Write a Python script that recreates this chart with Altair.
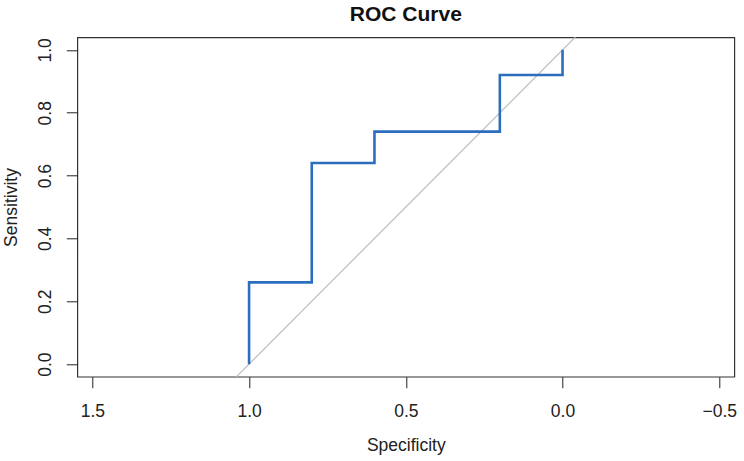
import altair as alt
import pandas as pd

# ROC step curve (specificity, sensitivity)
specificity = [1.0, 1.0, 0.8, 0.8, 0.6, 0.6, 0.2, 0.2, 0.0, 0.0]
sensitivity = [0.0, 0.26, 0.26, 0.64, 0.64, 0.74, 0.74, 0.92, 0.92, 1.0]

# chance diagonal (sensitivity = 1 - specificity), clipped to the plot box
diag_spec = [1.6, -0.6]
diag_sens = [-0.6, 1.6]

x_ticks = [1.5, 1.0, 0.5, 0.0, -0.5]
y_ticks = [0.0, 0.2, 0.4, 0.6, 0.8, 1.0]

curve_df = pd.DataFrame({"spec": specificity, "sens": sensitivity, "order": list(range(len(specificity)))})
diag_df = pd.DataFrame({"spec": diag_spec, "sens": diag_sens, "order": [0, 1]})

FONT = "Liberation Sans"

x_scale = alt.Scale(domain=[1.548, -0.548], nice=False, zero=False)
y_scale = alt.Scale(domain=[-0.04, 1.04], nice=False, zero=False)

x_axis = alt.Axis(
    values=x_ticks, format=".1f", title="Specificity", grid=False, domain=False,
    tickColor="#222", tickSize=11, tickWidth=1, labelFontSize=17.5, labelFont=FONT,
    labelColor="#222", labelPadding=15, labelBaseline="top",
    titleFont=FONT, titleFontSize=17.5, titleFontWeight="normal", titleColor="#222",
    titleBaseline="alphabetic", titleY=74,
)
y_axis = alt.Axis(
    values=y_ticks, format=".1f", title="Sensitivity", grid=False, domain=False,
    tickColor="#222", tickSize=11, tickWidth=1, labelFontSize=17.5, labelFont=FONT,
    labelColor="#222", labelAngle=-90, labelAlign="center", labelBaseline="alphabetic",
    labelPadding=16,
    titleFont=FONT, titleFontSize=17.5, titleFontWeight="normal", titleColor="#222",
    titleBaseline="alphabetic", titleX=-61, titleAngle=-90,
)

diag = alt.Chart(diag_df).mark_line(color="#bebebe", strokeWidth=1.2, clip=True).encode(
    x=alt.X("spec:Q", scale=x_scale, axis=x_axis),
    y=alt.Y("sens:Q", scale=y_scale, axis=y_axis),
    order="order:Q",
)

curve = alt.Chart(curve_df).mark_line(color="#2a6ebd", strokeWidth=2.6, clip=True).encode(
    x=alt.X("spec:Q", scale=x_scale),
    y=alt.Y("sens:Q", scale=y_scale),
    order="order:Q",
)

chart = (
    alt.layer(diag, curve)
    .properties(
        width=657,
        height=339.4,
        title=alt.TitleParams(
            "ROC Curve", font=FONT, fontSize=21, fontWeight="bold", color="#111",
            anchor="middle", baseline="alphabetic", offset=15, dy=20,
        ),
        autosize=alt.AutoSizeParams(type="none"),
        padding={"left": 77.3, "top": 37.3, "right": 9.7, "bottom": 84.3},
        background="white",
    )
    .configure_view(stroke="#333", strokeWidth=1.2)
)

chart.save("out.html", embed_options={"renderer": "svg", "actions": False})
